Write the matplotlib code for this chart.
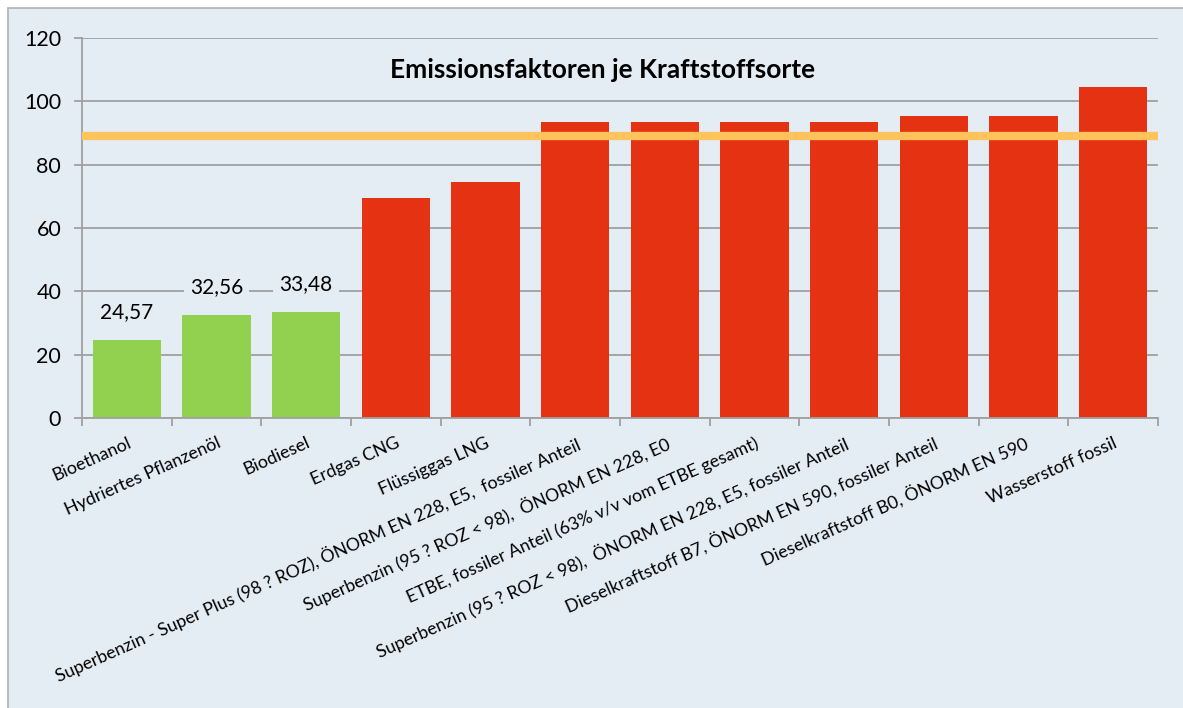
import matplotlib
matplotlib.use("Agg")
import matplotlib.pyplot as plt
from matplotlib.patches import Rectangle

categories = [
    "Bioethanol",
    "Hydriertes Pflanzenöl",
    "Biodiesel",
    "Erdgas CNG",
    "Flüssiggas LNG",
    "Superbenzin - Super Plus (98 ? ROZ), ÖNORM EN 228, E5,  fossiler Anteil",
    "Superbenzin (95 ? ROZ < 98),  ÖNORM EN 228, E0",
    "ETBE, fossiler Anteil (63% v/v vom ETBE gesamt)",
    "Superbenzin (95 ? ROZ < 98),  ÖNORM EN 228, E5, fossiler Anteil",
    "Dieselkraftstoff B7, ÖNORM EN 590, fossiler Anteil",
    "Dieselkraftstoff B0, ÖNORM EN 590",
    "Wasserstoff fossil",
]
values = [24.57, 32.56, 33.48, 69.5, 74.5, 93.5, 93.5, 93.5, 93.5, 95.4, 95.4, 104.6]
is_bio = [True, True, True, False, False, False, False, False, False, False, False, False]
labelled = ["24,57", "32,56", "33,48"]
reference_line = 89.0
title = "Emissionsfaktoren je Kraftstoffsorte"

BG = "#E5EDF4"
GREEN = "#92D050"
RED = "#E53212"
ORANGE = "#FFC35E"
GRID = "#A0A0A0"

plt.rcParams["font.family"] = ["Lato", "DejaVu Sans"]

W, H = 1183, 708
fig = plt.figure(figsize=(W / 100, H / 100), dpi=100)
fig.patch.set_facecolor("white")
frame = Rectangle((8 / W, -0.01), 1 - 8 / W + 0.01, 1 - 8 / H + 0.01, transform=fig.transFigure,
                  facecolor=BG, edgecolor="#B0B0B0", linewidth=1.2, zorder=-10)
fig.patches.append(frame)

ax = fig.add_axes([82 / W, 1 - 418 / H, (1158 - 82) / W, (418 - 38) / H])
ax.patch.set_visible(False)

x = list(range(len(categories)))
colors = [GREEN if b else RED for b in is_bio]
ax.bar(x, values, width=0.76, color=colors, zorder=2)

ax.set_xlim(-0.5, len(categories) - 0.5)
ax.set_ylim(0, 120)
ax.set_yticks(range(0, 121, 20))
ax.yaxis.grid(True, color=GRID, linewidth=1.3, zorder=0)
ax.set_axisbelow(True)

ax.axhline(reference_line, color=ORANGE, linewidth=6, zorder=3)

for sp in ["top", "right"]:
    ax.spines[sp].set_visible(False)
for sp in ["left", "bottom"]:
    ax.spines[sp].set_color(GRID)
    ax.spines[sp].set_linewidth(1.3)

ax.tick_params(axis="y", length=6, color=GRID, width=1.3, labelsize=15.5, pad=9)
ax.set_xticks(x)
ax.set_xticklabels(categories, rotation=24, ha="right", rotation_mode="anchor", fontsize=12.8)
ax.tick_params(axis="x", which="major", length=0, pad=12)
ax.set_xticks([i - 0.5 for i in range(len(categories) + 1)], minor=True)
ax.tick_params(axis="x", which="minor", length=6, color=GRID, width=1.3)

for i, lab in enumerate(labelled):
    ax.annotate(lab, (i, values[i]), xytext=(0, 13), textcoords="offset points",
                ha="center", va="bottom", fontsize=15, zorder=4,
                bbox=dict(boxstyle="square,pad=0.3", facecolor=BG, edgecolor="none"))

fig.text(603 / W, 1 - 70 / H, title, ha="center", va="center", fontsize=19, fontweight="bold")

fig.savefig("out.png", dpi=100, facecolor=fig.get_facecolor())
